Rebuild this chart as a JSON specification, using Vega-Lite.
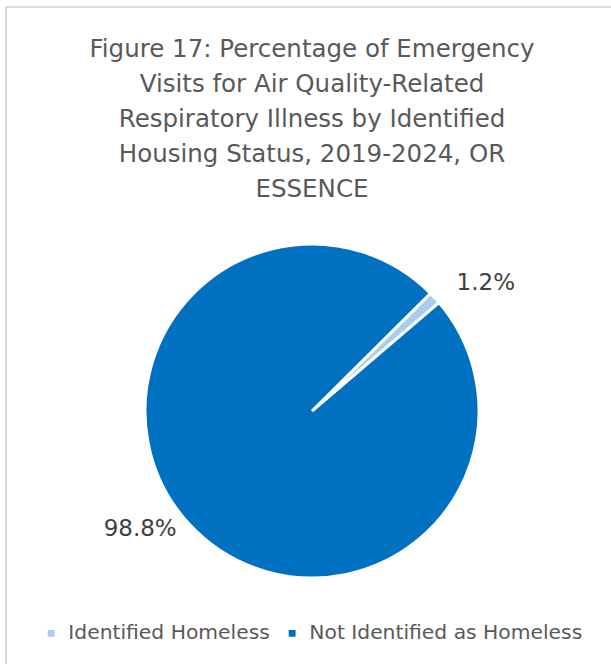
{
  "$schema": "https://vega.github.io/schema/vega-lite/v6.json",
  "width": 612,
  "height": 808,
  "autosize": {"type": "none"},
  "padding": {"left": 6, "right": 0, "top": 7, "bottom": 0},
  "background": "white",
  "view": {"stroke": "#D9D9D9", "strokeWidth": 2, "fill": "white"},
  "title": {
    "text": ["Figure 17: Percentage of Emergency", "Visits for Air Quality-Related", "Respiratory Illness by Identified", "Housing Status, 2019-2024, OR", "ESSENCE"],
    "fontSize": 24.5,
    "lineHeight": 35,
    "font": "DejaVu Sans",
    "fontWeight": "normal",
    "color": "#595959",
    "anchor": "middle",
    "offset": -195
  },
  "data": {
    "values": [
      {"status": "Identified Homeless", "pct": 1.2, "label": "1.2%"},
      {"status": "Not Identified as Homeless", "pct": 98.8, "label": "98.8%"}
    ]
  },
  "encoding": {
    "theta": {"field": "pct", "type": "quantitative", "stack": true, "scale": {"range": [0.789, 7.0722]}}
  },
  "layer": [
    {
      "mark": {"type": "arc", "outerRadius": 167, "stroke": "white", "strokeWidth": 3},
      "encoding": {
        "color": {
          "field": "status",
          "type": "nominal",
          "scale": {"domain": ["Identified Homeless", "Not Identified as Homeless"], "range": ["#A9CDEE", "#0070C0"]},
          "legend": {
            "title": null,
            "orient": "none",
            "legendX": 35,
            "legendY": 616,
            "direction": "horizontal",
            "symbolType": "square",
            "symbolSize": 70,
            "labelFont": "DejaVu Sans",
            "labelFontSize": 20.3,
            "labelColor": "#595959",
            "labelOffset": 7,
            "columnPadding": 12,
            "labelLimit": 400
          }
        }
      }
    },
    {
      "mark": {"type": "text", "radius": 205, "dx": 23, "dy": 11, "font": "DejaVu Sans", "fontSize": 23},
      "encoding": {
        "detail": {"field": "status", "type": "nominal"},
        "color": {"value": "#404040"},
        "text": {"condition": {"test": "datum.status == 'Identified Homeless'", "field": "label"}, "value": ""}
      }
    },
    {
      "mark": {"type": "text", "radius": 205, "dx": -21, "dy": -21, "font": "DejaVu Sans", "fontSize": 23},
      "encoding": {
        "detail": {"field": "status", "type": "nominal"},
        "color": {"value": "#404040"},
        "text": {"condition": {"test": "datum.status == 'Not Identified as Homeless'", "field": "label"}, "value": ""}
      }
    }
  ]
}
